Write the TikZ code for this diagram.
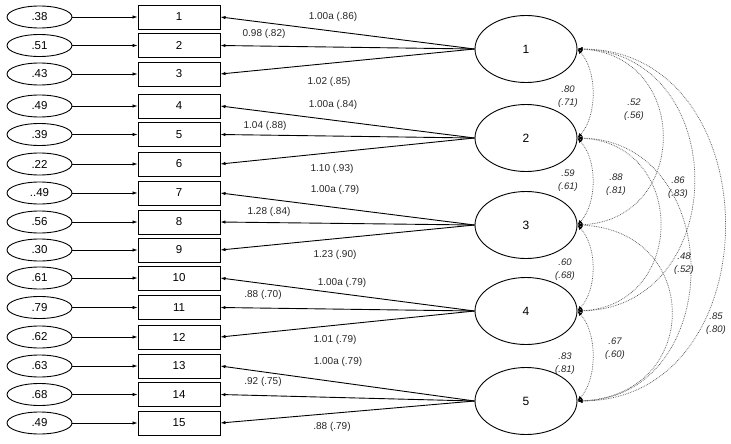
\documentclass[tikz,border=0pt]{standalone}
\usepackage{fontspec}
\setmainfont{Liberation Sans}
\usetikzlibrary{arrows.meta,shapes.geometric}
\begin{document}
\begin{tikzpicture}[x=1pt,y=-1pt,
  err/.style={draw, ellipse, minimum width=65pt, minimum height=22pt, inner sep=0pt, line width=0.9pt, font=\fontsize{11.5}{12}\selectfont},
  obs/.style={draw, rectangle, minimum width=82pt, minimum height=24pt, inner sep=0pt, line width=0.9pt, font=\fontsize{11.5}{12}\selectfont},
  lat/.style={draw, ellipse, minimum width=102pt, minimum height=67pt, inner sep=0pt, line width=0.9pt, font=\fontsize{12}{12}\selectfont},
  tip/.style={-{Latex[length=5pt,width=3.5pt]}},
  errarrow/.style={tip, line width=0.8pt},
  load/.style={tip, line width=0.9pt},
  cov/.style={{Latex[length=5pt,width=4pt,color=black]}-{Latex[length=5pt,width=4pt,color=black]}, densely dotted, line width=0.75pt, draw=black!65},
  lbl/.style={inner sep=0pt, font=\fontsize{10}{12}\selectfont, text=black!85},
  clbl/.style={inner sep=0pt, align=center, font=\fontsize{9.5}{13}\selectfont\itshape, text=black!85}
]
\useasboundingbox (0,0) rectangle (731,444);

% observed variables and error terms
\foreach \i/\y/\v in {1/17/.38, 2/45.5/.51, 3/74/.43, 4/106/.49, 5/134.5/.39, 6/164/.22,
  7/193/..49, 8/222/.56, 9/250/.30, 10/278/.61, 11/307.5/.79, 12/337/.62,
  13/366/.63, 14/394.5/.68, 15/423/.49}{
  \node[err] (e\i) at (39.5,\y) {\v};
  \node[obs] (b\i) at (179,\y) {\i};
  \draw[errarrow] (e\i) -- (b\i);
}

% latent factors
\foreach \j/\y in {1/49, 2/138, 3/225, 4/311, 5/401}{
  \node[lat] (f\j) at (526,\y) {\j};
}

% loadings
\foreach \j/\a/\b/\c in {1/1/2/3, 2/4/5/6, 3/7/8/9, 4/10/11/12, 5/13/14/15}{
  \draw[load] (f\j.west) -- (b\a.east);
  \draw[load] (f\j.west) -- (b\b.east);
  \draw[load] (f\j.west) -- (b\c.east);
}

% loading labels
\node[lbl] (l1)  at (333,17)  {1.00a (.86)};
\node[lbl] (l2)  at (264,34)  {0.98 (.82)};
\node[lbl] (l3)  at (329,82)  {1.02 (.85)};
\node[lbl] (l4)  at (333,105) {1.00a (.84)};
\node[lbl] (l5)  at (265,126) {1.04 (.88)};
\node[lbl] (l6)  at (332,169) {1.10 (.93)};
\node[lbl] (l7)  at (335,190) {1.00a (.79)};
\node[lbl] (l8)  at (269,212) {1.28 (.84)};
\node[lbl] (l9)  at (335,255) {1.23 (.90)};
\node[lbl] (l10) at (342,283) {1.00a (.79)};
\node[lbl] (l11) at (263,295) {.88 (.70)};
\node[lbl] (l12) at (335,340) {1.01 (.79)};
\node[lbl] (l13) at (338,362) {1.00a (.79)};
\node[lbl] (l14) at (263,382) {.92 (.75)};
\node[lbl] (l15) at (332,427) {.88 (.79)};

% covariances
\draw[cov] (f1.east) .. controls +(20,22) and +(20,-22) .. (f2.east);
\draw[cov] (f2.east) .. controls +(20,22) and +(20,-22) .. (f3.east);
\draw[cov] (f3.east) .. controls +(20,22) and +(20,-22) .. (f4.east);
\draw[cov] (f4.east) .. controls +(20,22) and +(20,-22) .. (f5.east);
\draw[cov] (f1.east) .. controls +(113,5) and +(113,-5) .. (f3.east);
\draw[cov] (f2.east) .. controls +(110,5) and +(110,-5) .. (f4.east);
\draw[cov] (f3.east) .. controls +(125,5) and +(125,-5) .. (f5.east);
\draw[cov] (f1.east) .. controls +(155,3) and +(155,-3) .. (f4.east);
\draw[cov] (f2.east) .. controls +(150,3) and +(150,-3) .. (f5.east);
\draw[cov] (f1.east) .. controls +(196,0) and +(196,0) .. (f5.east);

% covariance labels
\node[clbl] (c12) at (568,97)  {.80\\(.71)};
\node[clbl] (c13) at (634,110) {.52\\(.56)};
\node[clbl] (c14) at (678,188) {.86\\(.83)};
\node[clbl] (c15) at (716,324) {.85\\(.80)};
\node[clbl] (c23) at (568,181) {.59\\(.61)};
\node[clbl] (c24) at (616,185) {.88\\(.81)};
\node[clbl] (c25) at (684,264) {.48\\(.52)};
\node[clbl] (c34) at (565,270) {.60\\(.68)};
\node[clbl] (c35) at (615,349) {.67\\(.60)};
\node[clbl] (c45) at (565,364) {.83\\(.81)};
\end{tikzpicture}
\end{document}
